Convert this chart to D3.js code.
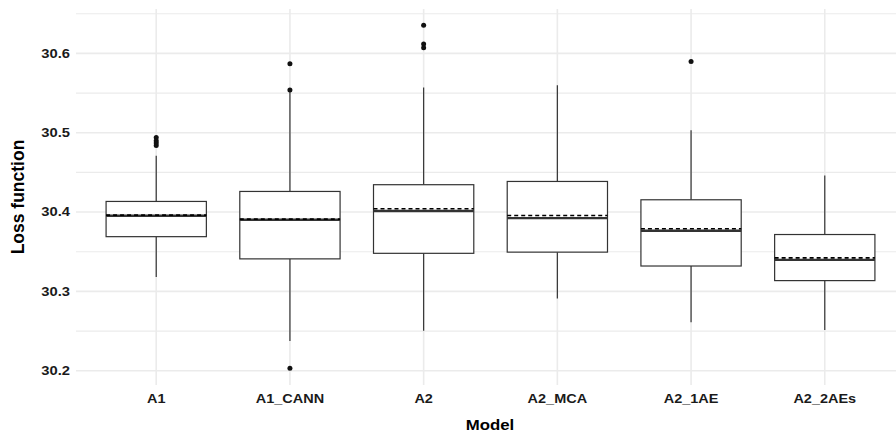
<!DOCTYPE html>
<html>
<head>
<meta charset="utf-8">
<script src="https://cdn.jsdelivr.net/npm/d3@7"></script>
<style>
  body { margin: 0; background: #fff; }
  text { font-family: "Liberation Sans", Arial, sans-serif; font-weight: bold; }
</style>
</head>
<body>
<svg id="chart" width="896" height="433"></svg>
<script>
var models = ['A1', 'A1_CANN', 'A2', 'A2_MCA', 'A2_1AE', 'A2_2AEs'];
var q1 = [30.369, 30.341, 30.348, 30.3495, 30.332, 30.3136];
var medians = [30.3953, 30.3903, 30.4013, 30.3924, 30.3764, 30.3398];
var q3 = [30.4134, 30.426, 30.4345, 30.4386, 30.4155, 30.3717];
var means = [30.3962, 30.391, 30.4042, 30.3957, 30.379, 30.3423];
var whiskerLow = [30.318, 30.2375, 30.2505, 30.291, 30.261, 30.2514];
var whiskerHigh = [30.471, 30.554, 30.557, 30.560, 30.503, 30.446];
var outliers = [
    [30.494, 30.490, 30.487, 30.484],
    [30.587, 30.554, 30.203],
    [30.6356, 30.612, 30.607],
    [],
    [30.5898],
    []
];
var yTicks = [30.2, 30.3, 30.4, 30.5, 30.6];
var yMinor = [30.25, 30.35, 30.45, 30.55, 30.65];

var svg = d3.select('#chart');
var plotLeft = 76, plotRight = 905, plotTop = 9, plotBottom = 385;

var x = d3.scalePoint().domain(models).range([plotLeft, plotRight]).padding(0.6);
var y = d3.scaleLinear().domain([30.182, 30.656]).range([plotBottom, plotTop]);
var boxW = x.step() * 0.75;

var grid = svg.append('g');
grid.selectAll('line.minor')
    .data(yMinor)
  .enter().append('line')
    .attr('x1', plotLeft).attr('x2', 896)
    .attr('y1', function (d) { return y(d); })
    .attr('y2', function (d) { return y(d); })
    .attr('stroke', '#ebebeb').attr('stroke-width', 1.2);
grid.selectAll('line.major')
    .data(yTicks)
  .enter().append('line')
    .attr('x1', plotLeft).attr('x2', 896)
    .attr('y1', function (d) { return y(d); })
    .attr('y2', function (d) { return y(d); })
    .attr('stroke', '#ebebeb').attr('stroke-width', 1.6);
grid.selectAll('line.vert')
    .data(models)
  .enter().append('line')
    .attr('x1', function (d) { return x(d); })
    .attr('x2', function (d) { return x(d); })
    .attr('y1', plotTop).attr('y2', plotBottom)
    .attr('stroke', '#ebebeb').attr('stroke-width', 1.6);

// the picture's text is a little wider than it is tall, so stretch it
svg.append('g').selectAll('text')
    .data(yTicks)
  .enter().append('text')
    .attr('transform', function (d) { return 'translate(70,' + y(d) + ') scale(1.18,1)'; })
    .attr('dy', '0.35em')
    .attr('text-anchor', 'end')
    .attr('font-size', 12.5)
    .attr('fill', '#1a1a1a')
    .text(function (d) { return d3.format('.1f')(d); });

svg.append('g').selectAll('text')
    .data(models)
  .enter().append('text')
    .attr('transform', function (d) { return 'translate(' + x(d) + ',403) scale(1.16,1)'; })
    .attr('text-anchor', 'middle')
    .attr('font-size', 12.5)
    .attr('fill', '#1a1a1a')
    .text(function (d) { return d; });

svg.append('text')
    .attr('transform', 'translate(490,430) scale(1.12,1)')
    .attr('text-anchor', 'middle')
    .attr('font-size', 15)
    .attr('fill', '#000')
    .text('Model');

svg.append('text')
    .attr('transform', 'translate(24,' + ((plotTop + plotBottom) / 2) + ') rotate(-90)')
    .attr('text-anchor', 'middle')
    .attr('font-size', 17.5)
    .attr('fill', '#000')
    .text('Loss function');

// boxes
var boxes = svg.append('g').selectAll('g')
    .data(models)
  .enter().append('g');

boxes.append('line')
    .attr('x1', function (d) { return x(d); })
    .attr('x2', function (d) { return x(d); })
    .attr('y1', function (d, i) { return y(q3[i]); })
    .attr('y2', function (d, i) { return y(whiskerHigh[i]); })
    .attr('stroke', '#333').attr('stroke-width', 1.2);
boxes.append('line')
    .attr('x1', function (d) { return x(d); })
    .attr('x2', function (d) { return x(d); })
    .attr('y1', function (d, i) { return y(q1[i]); })
    .attr('y2', function (d, i) { return y(whiskerLow[i]); })
    .attr('stroke', '#333').attr('stroke-width', 1.2);
boxes.append('rect')
    .attr('x', function (d) { return x(d) - boxW / 2; })
    .attr('width', boxW)
    .attr('y', function (d, i) { return y(q3[i]); })
    .attr('height', function (d, i) { return y(q1[i]) - y(q3[i]); })
    .attr('fill', '#fff').attr('stroke', '#333').attr('stroke-width', 1.2);
boxes.append('line')
    .attr('x1', function (d) { return x(d) - boxW / 2; })
    .attr('x2', function (d) { return x(d) + boxW / 2; })
    .attr('y1', function (d, i) { return y(medians[i]); })
    .attr('y2', function (d, i) { return y(medians[i]); })
    .attr('stroke', '#333').attr('stroke-width', 2.4);
boxes.append('line')
    .attr('x1', function (d) { return x(d) - boxW / 2; })
    .attr('x2', function (d) { return x(d) + boxW / 2; })
    .attr('y1', function (d, i) { return y(means[i]); })
    .attr('y2', function (d, i) { return y(means[i]); })
    .attr('stroke', '#000').attr('stroke-width', 1.7)
    .attr('stroke-dasharray', '4,3');

boxes.selectAll('circle')
    .data(function (d, i) { return outliers[i].map(function (v) { return { m: d, v: v }; }); })
  .enter().append('circle')
    .attr('cx', function (d) { return x(d.m); })
    .attr('cy', function (d) { return y(d.v); })
    .attr('r', 2.5)
    .attr('fill', '#111');
</script>
</body>
</html>
